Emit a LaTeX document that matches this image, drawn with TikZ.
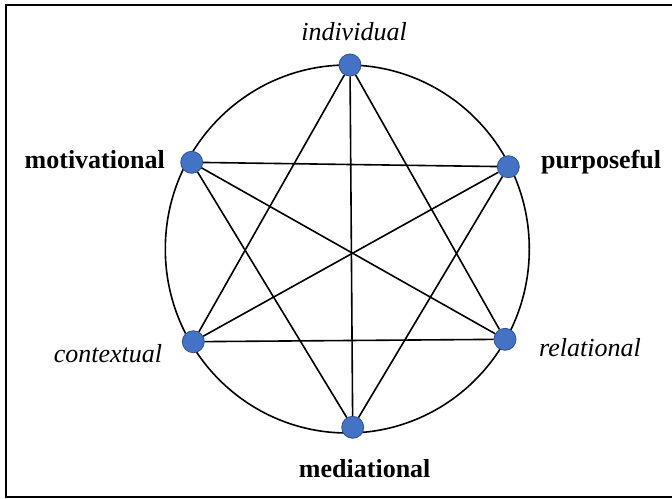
\documentclass[tikz,border=0pt]{standalone}
\usepackage{fontspec}
\setmainfont{Liberation Serif}
\usetikzlibrary{positioning}

\definecolor{dotblue}{HTML}{4472C4}
\definecolor{dotrim}{HTML}{2F528F}

\begin{document}
\begin{tikzpicture}[
  x=1pt, y=-1pt,
  dot/.style={circle, fill=dotblue, draw=dotrim, line width=0.8pt,
              minimum size=22pt, inner sep=0pt},
  strong/.style={font=\fontsize{26}{28}\selectfont\bfseries, inner sep=0pt},
  soft/.style={font=\fontsize{26}{28}\selectfont\itshape, inner sep=0pt},
  e/.style={line width=1.6pt},
]
  \useasboundingbox (0,0) rectangle (672,498);
  \draw[line width=2pt] (5.5,4.5) rectangle (690,496.5);

  \draw[e] (347.3,249) ellipse [x radius=182, y radius=184];

  \node[dot] (ind) at (350,65)      {};
  \node[dot] (mot) at (191.7,162.3) {};
  \node[dot] (pur) at (508.3,166.7) {};
  \node[dot] (con) at (193.3,341.7) {};
  \node[dot] (rel) at (505,339.3)   {};
  \node[dot] (med) at (352.7,427.3) {};

  % labels, set on their baselines
  \node[soft, anchor=base] (indl) at ([xshift=4pt, yshift=25pt]ind) {individual};
  \node[strong, anchor=base east] (motl) at ([xshift=-26.7pt, yshift=-5.7pt]mot) {motivational};
  \node[strong, anchor=base west] (purl) at ([xshift=32.7pt, yshift=-1.3pt]pur) {purposeful};
  \node[soft, anchor=base east] (conl) at ([xshift=-31pt, yshift=-20.3pt]con) {contextual};
  \node[soft, anchor=base west] (rell) at ([xshift=34pt, yshift=-16.7pt]rel) {relational};
  \node[strong, anchor=base] (medl) at ([xshift=12pt, yshift=-49.7pt]med) {mediational};

  \draw[e] (ind) -- (con);
  \draw[e] (ind) -- (med);
  \draw[e] (ind) -- (rel);
  \draw[e] (mot) -- (pur);
  \draw[e] (mot) -- (rel);
  \draw[e] (mot) -- (med);
  \draw[e] (pur) -- (con);
  \draw[e] (pur) -- (med);
  \draw[e] (con) -- (rel);
\end{tikzpicture}
\end{document}
